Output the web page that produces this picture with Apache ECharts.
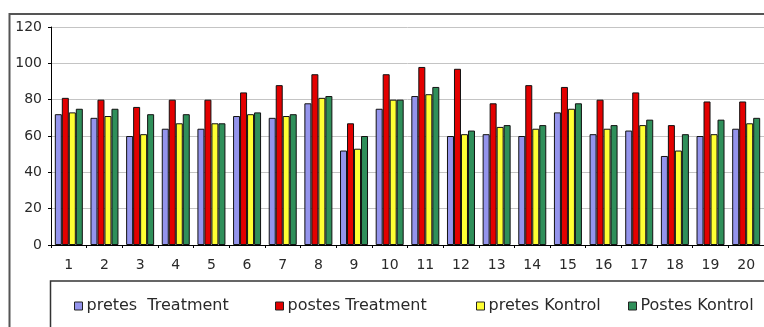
<!DOCTYPE html>
<html>
<head>
<meta charset="utf-8">
<script src="https://cdn.jsdelivr.net/npm/echarts@6/dist/echarts.min.js"></script>
<style>
html,body{margin:0;padding:0;background:#fff;}
#c{width:764px;height:327px;}
</style>
</head>
<body>
<div id="c"></div>
<script>
const categories = ['1','2','3','4','5','6','7','8','9','10','11','12','13','14','15','16','17','18','19','20'];
const seriesNames = ['pretes  Treatment','postes Treatment','pretes Kontrol','Postes Kontrol'];
const pretesTreatment = [72,70,60,64,64,71,70,78,52,75,82,60,61,60,73,61,63,49,60,64];
const postesTreatment = [81,80,76,80,80,84,88,94,67,94,98,97,78,88,87,80,84,66,79,79];
const pretesKontrol  = [73,71,61,67,67,72,71,81,53,80,83,61,65,64,75,64,66,52,61,67];
const postesKontrol  = [75,75,72,72,67,73,72,82,60,80,87,63,66,66,78,66,69,61,69,70];
const yTicks = [0,20,40,60,80,100,120];

const colors = ['#9494ec','#e30000','#ffff33','#2f8f5a'];
const values = [pretesTreatment, postesTreatment, pretesKontrol, postesKontrol];
const legendLeft = [74, 275, 476, 628];

const chart = echarts.init(document.getElementById('c'), null, {renderer:'canvas'});
const font = 'DejaVu Sans';
chart.setOption({
  animation:false,
  backgroundColor:'#fff',
  textStyle:{fontFamily:font},
  grid:{left:51, top:27, width:720, bottom:82, containLabel:false},
  legend: seriesNames.map((n,i)=>({
    data:[n], left:legendLeft[i], top:298, icon:'rect', itemWidth:8, itemHeight:8,
    itemGap:0, padding:0,
    itemStyle:{borderColor:'#222', borderWidth:1},
    textStyle:{fontFamily:font, fontSize:16, color:'#2a2a2a', padding:[0,0,0,-1]}
  })),
  xAxis:{
    type:'category', data:categories,
    axisLine:{lineStyle:{color:'#000', width:1}},
    axisTick:{show:true, length:3, lineStyle:{color:'#000'}},
    axisLabel:{fontFamily:font, fontSize:14, color:'#2a2a2a', margin:13},
    splitLine:{show:false}
  },
  yAxis:{
    type:'value', min:0, max:120, interval:20,
    axisLine:{show:true, lineStyle:{color:'#000', width:1}},
    axisTick:{show:true, length:3, lineStyle:{color:'#000'}},
    axisLabel:{fontFamily:font, fontSize:14, color:'#2a2a2a', margin:9,
      formatter:v=>yTicks.includes(v)?String(v):''},
    splitLine:{show:true, lineStyle:{color:'#c4c4c4', width:1}}
  },
  series: seriesNames.map((n,i)=>({
    name:n, type:'bar', data:values[i], barWidth:7, barGap:'0%',
    itemStyle:{color:colors[i], borderColor:'#111', borderWidth:1}
  })),
  graphic:[
    {type:'rect', shape:{x:9.5, y:14, width:800, height:400}, style:{fill:'none', stroke:'#555', lineWidth:2}, z:100},
    {type:'rect', shape:{x:50.5, y:281, width:800, height:200}, style:{fill:'none', stroke:'#333', lineWidth:1.5}, z:100}
  ]
});
</script>
</body>
</html>
